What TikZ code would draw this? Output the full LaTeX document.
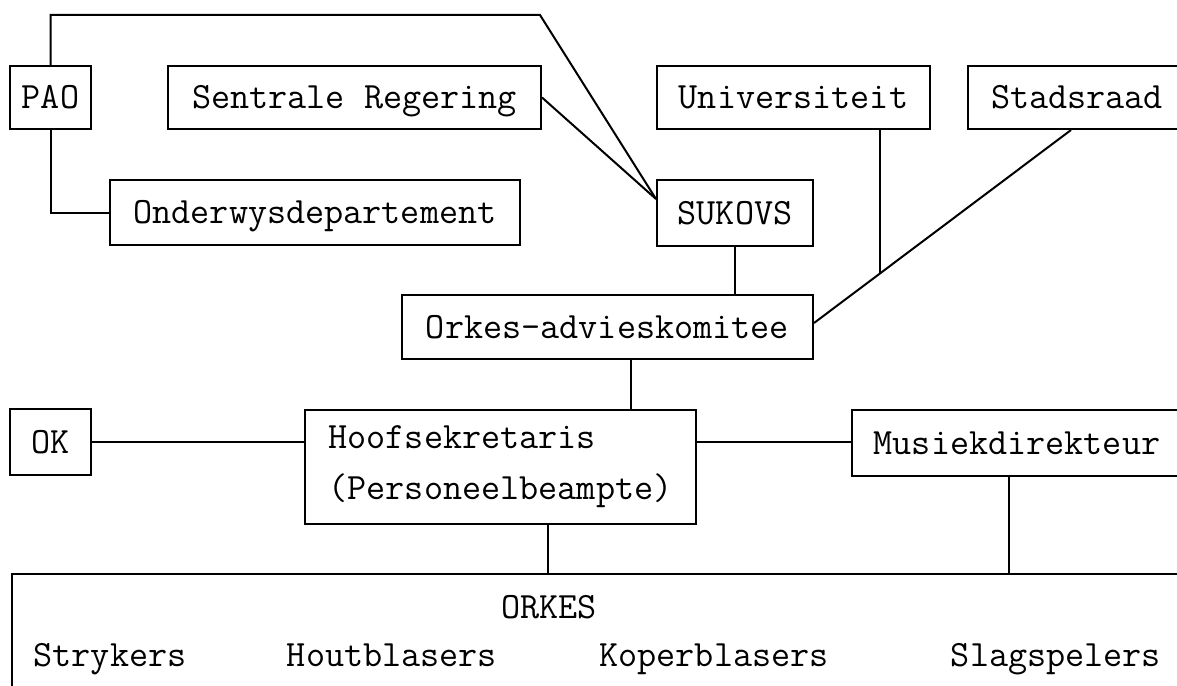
\documentclass[tikz,border=0pt]{standalone}
\usepackage{fontspec}
\usetikzlibrary{calc}

\begin{document}
\begin{tikzpicture}[x=1pt, y=-1pt, line width=2pt,
    every node/.style={font=\ttfamily\fontsize{37.1}{51}\selectfont},
    frame/.style={draw, line width=2pt, inner sep=0pt},
    box/.style={frame, text height=22.5pt, text depth=0pt},
    lbl/.style={inner sep=0pt, text height=22.5pt, text depth=0pt}]
    \clip (0,0) rectangle (1177,685);

    % Top row
    \node[box, minimum width=81pt, minimum height=63pt] (pao) at (50.5,97.5) {PAO};
    \node[box, minimum width=373pt, minimum height=63pt] (sentrale) at (354.5,97.5) {Sentrale Regering};
    \node[box, minimum width=273pt, minimum height=63pt] (univ) at (793.5,97.5) {Universiteit};
    \node[box, minimum width=218pt, minimum height=63pt] (stad) at (1077,97.5) {Stadsraad};

    % Second row
    \node[box, minimum width=410pt, minimum height=65pt] (onderwys) at (315,212.5) {Onderwysdepartement};
    \node[box, minimum width=156pt, minimum height=66pt] (sukovs) at (735,213) {SUKOVS};
    \node[box, minimum width=411pt, minimum height=64pt] (advies) at (607.5,327) {Orkes-advieskomitee};

    % Management
    \node[box, minimum width=81pt, minimum height=66pt] (ok) at (50.5,442) {OK};
    \node[frame, align=left, minimum width=391pt, minimum height=114pt] (hoof) at (500.5,467) {Hoofsekretaris\\(Personeelbeampte)};
    \node[box, minimum width=330pt, minimum height=66pt] (musiek) at (1017,443) {Musiekdirekteur};

    % Orchestra
    \node[frame, anchor=north west, minimum width=1200pt, minimum height=150pt] (orkes) at (11,573) {};
    \node[lbl] (orkestitel) at (549,607) {ORKES};
    \node[lbl] (strykers) at (110,655) {Strykers};
    \node[lbl] (hout) at (392,655) {Houtblasers};
    \node[lbl] (koper) at (714,655) {Koperblasers};
    \node[lbl] (slag) at (1056,655) {Slagspelers};

    % Links to SUKOVS
    \coordinate (bend) at (540,15);
    \coordinate (sukovsin) at ([yshift=-20pt]sukovs.north west);
    \draw (pao.north) |- (bend) -- (sukovsin);
    \draw (sentrale.east) -- (sukovsin);
    \draw (pao.south) |- (onderwys.west);
    \draw (sukovs.south) -- (sukovs.south |- advies.north);

    % Universiteit and Stadsraad
    \coordinate (stadfoot) at ([xshift=-6pt]stad.south);
    \coordinate (adviesin) at ([yshift=4pt]advies.east);
    \coordinate (unifoot) at ([xshift=86.5pt]univ.south);
    \coordinate (unijoin) at ($(stadfoot)!0.74!(adviesin)$);
    \draw (stadfoot) -- (adviesin);
    \draw (unifoot) -- (unifoot |- unijoin);

    % Down to the orchestra
    \coordinate (adviesfoot) at ([xshift=23.5pt]advies.south);
    \draw (adviesfoot) -- (adviesfoot |- hoof.north);
    \draw (ok.east) -- (ok.east -| hoof.west);
    \draw (ok.east -| hoof.east) -- (ok.east -| musiek.west);
    \coordinate (hooffoot) at ([xshift=47.5pt]hoof.south);
    \draw (hooffoot) -- (hooffoot |- orkes.north);
    \coordinate (musiekfoot) at ([xshift=-8pt]musiek.south);
    \draw (musiekfoot) -- (musiekfoot |- orkes.north);
\end{tikzpicture}
\end{document}
